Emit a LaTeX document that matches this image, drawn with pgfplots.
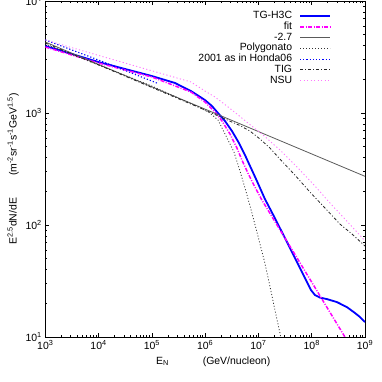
\documentclass[border=0pt]{standalone}
\usepackage{fontspec}
\setmainfont{Liberation Sans}
\usepackage{pgfplots}
\pgfplotsset{compat=1.18}

\definecolor{tgblue}{RGB}{0,0,255}
\definecolor{fitmag}{RGB}{255,0,255}
\definecolor{nsupink}{RGB}{255,120,255}
\definecolor{gline}{RGB}{90,90,90}

\begin{document}
\begin{tikzpicture}[font=\fontsize{10.5}{12.6}\selectfont]
\begin{axis}[
  xmode=log, ymode=log,
  scale only axis, width=319.7bp, height=336bp,
  xmin=1e3, xmax=1e9, ymin=10, ymax=1e4,
  xtick={1e3,1e4,1e5,1e6,1e7,1e8,1e9},
  xticklabels={10\textsuperscript{3},10\textsuperscript{4},10\textsuperscript{5},10\textsuperscript{6},10\textsuperscript{7},10\textsuperscript{8},10\textsuperscript{9}},
  ytick={10,100,1000,10000},
  yticklabels={10\textsuperscript{1},10\textsuperscript{2},10\textsuperscript{3},10\textsuperscript{4}},
  tick align=inside, major tick length=4bp, minor tick length=2bp,
  axis line style={line width=0.9bp},
  every tick/.style={black, line width=0.6bp},
  xlabel={E\textsubscript{N}\hspace{34bp}(GeV/nucleon)},
  ylabel={E\textsuperscript{2.5}dN/dE\hspace{22bp}(m\textsuperscript{-2}sr\textsuperscript{-1}s\textsuperscript{-1}GeV\textsuperscript{1.5})},
  xlabel style={xshift=8bp},
  legend plot pos=right, legend cell align=right,
  legend image code/.code={\draw[#1] (0bp,0bp) -- (30bp,0bp);},
  legend style={at={(0.894,0.971)}, anchor=north east, draw=none, fill=none,
    inner sep=0pt, row sep=0pt, column sep=7bp,
    nodes={inner xsep=0pt, inner ysep=0.3bp, text height=7.6bp, text depth=2.5bp}},
  every axis plot/.append style={line join=round},
]
% TG-H3C
\addplot[tgblue, line width=1.8bp] coordinates {
 (1e3,3963) (1e4,2851) (1e5,2138) (2.71e5,1854) (5.41e5,1572) (9.9e5,1306)
 (1.34e6,1155) (1.74e6,1000) (2.35e6,849) (3.18e6,691) (4.31e6,540)
 (5.58e6,422) (7.23e6,323) (9.37e6,247) (1.32e7,171) (2.04e7,115)
 (3.14e7,76.5) (4.84e7,50.7) (7.45e7,33.6) (9.66e7,26.3) (1.15e8,23.7)
 (1.42e8,22.5) (1.93e8,21.8) (2.97e8,20.5) (4.57e8,18.5) (6.46e8,16.4)
 (8.02e8,15.1) (1e9,13.6)};
\addlegendentry{TG-H3C}
% fit
\addplot[fitmag, line width=1.5bp, dash pattern=on 4bp off 1.5bp on 1bp off 1.5bp] coordinates {
 (1e3,3882) (1e4,2793) (1e5,2096) (5.41e5,1540) (9.9e5,1253) (1.53e6,1021)
 (2.07e6,849) (2.92e6,650) (3.95e6,487) (4.9e6,380) (6.35e6,291)
 (8.6e6,218) (1.16e7,167) (4.84e7,54.6) (1.77e8,19.7) (4.2e8,10) (8e8,6)};
\addlegendentry{fit}
% -2.7
\addplot[gline, line width=0.8bp] coordinates {(1e3,4300) (1e9,272)};
\addlegendentry{-2.7}
% Polygonato
\addplot[black!80, line width=0.8bp, dash pattern=on 1bp off 2bp] coordinates {
 (1e3,4130) (1e4,2685) (1e5,1741) (4.16e5,1279) (7.98e5,1119) (1.23e6,1000)
 (1.74e6,866) (2.68e6,574) (3.47e6,449) (4.5e6,304) (5.82e6,201)
 (7.55e6,128) (9.79e6,79.8) (1.32e7,45.8) (1.64e7,28.5) (2.04e7,17.4)
 (2.53e7,10.9) (2.76e7,8.8)};
\addlegendentry{Polygonato}
% 2001 as in Honda06
\addplot[tgblue, line width=1.1bp, dash pattern=on 1.2bp off 2bp] coordinates {
 (1e3,4490) (1e4,2970) (1.25e5,1850)};
\addlegendentry{2001 as in Honda06}
% TIG
\addplot[black!85, line width=0.8bp, dash pattern=on 3bp off 2bp on 1bp off 2bp] coordinates {
 (1e3,4220) (1e4,2685) (1e5,1690) (9.9e5,1064) (2.35e6,884) (4.5e6,773)
 (6.92e6,690) (1.07e7,586) (1.64e7,487) (2.53e7,388) (4.84e7,279)
 (9.25e7,197) (1.77e8,142) (3.38e8,102) (5.68e8,83.2) (1e9,64.9)};
\addlegendentry{TIG}
% NSU
\addplot[nsupink, line width=0.9bp, dash pattern=on 1.2bp off 2.3bp] coordinates {
 (1e3,4490) (1e4,3266) (1e5,2382) (5.41e5,1893) (9.9e5,1572) (1.53e6,1389)
 (2.35e6,1191) (3.95e6,980) (6.35e6,814) (1.16e7,650) (2.53e7,468)
 (5.28e7,330) (1.15e8,223) (2.2e8,157) (4.77e8,106) (1e9,72)};
\addlegendentry{NSU}
\end{axis}
\pgfresetboundingbox
\path ([xshift=-45.3bp,yshift=-45bp]current axis.south west) rectangle ([xshift=17bp,yshift=1bp]current axis.north east);
\end{tikzpicture}
\end{document}
